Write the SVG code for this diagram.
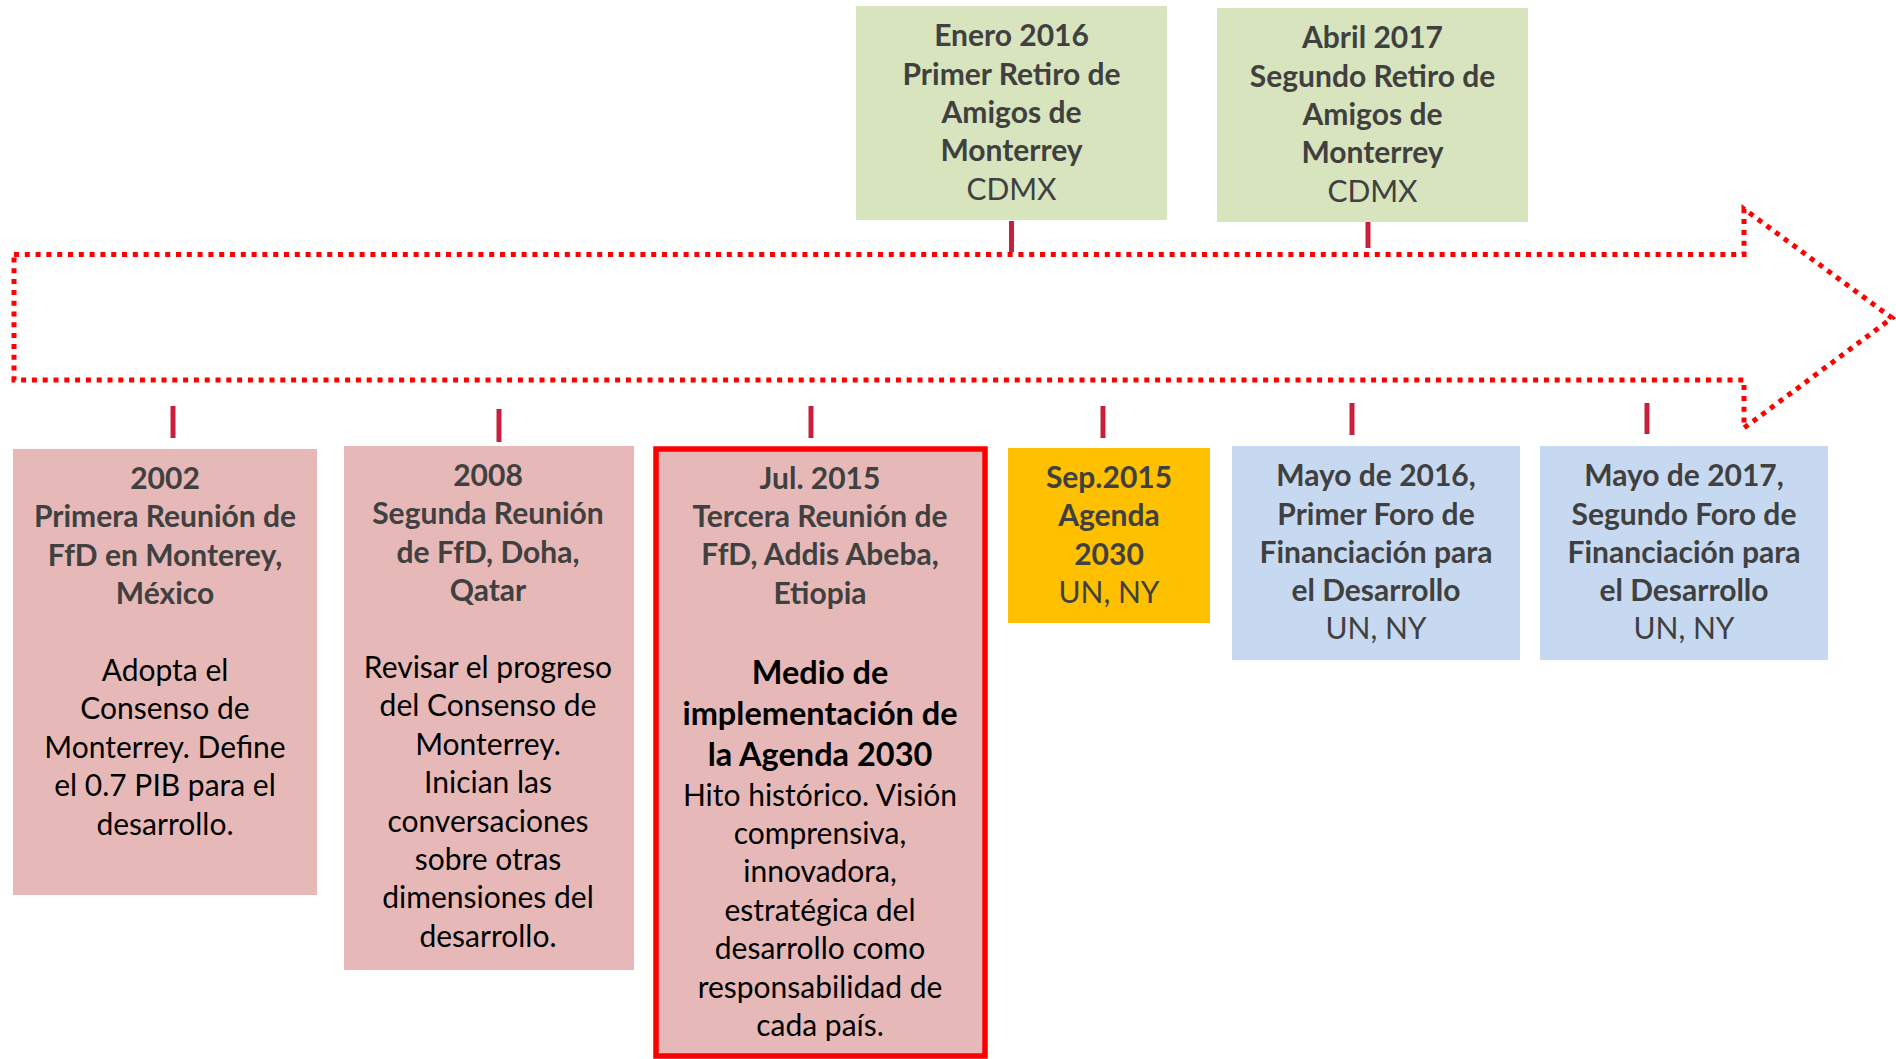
<svg xmlns="http://www.w3.org/2000/svg" width="1896" height="1059" viewBox="0 0 1896 1059">
<style>
.h{font-family:Lato,"Open Sans",sans-serif;font-weight:bold;font-size:30px;fill:#404040;text-anchor:middle}
.s{font-family:Lato,"Open Sans",sans-serif;font-size:30px;fill:#404040;text-anchor:middle}
.b{font-family:Lato,"Open Sans",sans-serif;font-size:30px;fill:#000;text-anchor:middle}
.m{font-family:Lato,"Open Sans",sans-serif;font-weight:bold;font-size:32.5px;fill:#000;text-anchor:middle}
.tick{stroke:#C8203C;stroke-width:5}
.pink{fill:#E6B9B8}
.green{fill:#D7E4BD}
.blue{fill:#C6D9F1}
</style>
<rect width="1896" height="1059" fill="#fff"/>
<g id="connectors">
<polygon points="14,254.5 1744,254.5 1744,209 1892,318 1744,428 1744,380 14,380" fill="none" stroke="#FF0000" stroke-width="5" stroke-dasharray="5 5.8"/>
<line class="tick" x1="1011.5" y1="221" x2="1011.5" y2="252"/>
<line class="tick" x1="1368" y1="217" x2="1368" y2="248"/>
<line class="tick" x1="173" y1="406" x2="173" y2="438"/>
<line class="tick" x1="499" y1="409" x2="499" y2="442"/>
<line class="tick" x1="811" y1="406" x2="811" y2="438"/>
<line class="tick" x1="1103" y1="406" x2="1103" y2="438"/>
<line class="tick" x1="1352" y1="403" x2="1352" y2="435"/>
<line class="tick" x1="1647" y1="403" x2="1647" y2="434"/>
</g>
<g id="n-enero2016">
<rect class="green" x="856" y="6" width="311" height="214"/>
<text class="h" x="1011.5" y="46">Enero 2016</text>
<text class="h" x="1011.5" y="84.5">Primer Retiro de</text>
<text class="h" x="1011.5" y="123">Amigos de</text>
<text class="h" x="1011.5" y="161">Monterrey</text>
<text class="s" x="1011.5" y="199.5">CDMX</text>
</g>
<g id="n-abril2017">
<rect class="green" x="1217" y="8" width="311" height="214"/>
<text class="h" x="1372.5" y="48">Abril 2017</text>
<text class="h" x="1372.5" y="86.5">Segundo Retiro de</text>
<text class="h" x="1372.5" y="125">Amigos de</text>
<text class="h" x="1372.5" y="163">Monterrey</text>
<text class="s" x="1372.5" y="201.5">CDMX</text>
</g>
<g id="n-2002">
<rect class="pink" x="13" y="449" width="304" height="446"/>
<text class="h" x="165" y="489">2002</text>
<text class="h" x="165" y="527.4">Primera Reunión de</text>
<text class="h" x="165" y="565.8">FfD en Monterey,</text>
<text class="h" x="165" y="604.2">México</text>
<text class="b" x="165" y="681">Adopta el</text>
<text class="b" x="165" y="719.4">Consenso de</text>
<text class="b" x="165" y="757.8">Monterrey. Define</text>
<text class="b" x="165" y="796.2">el 0.7 PIB para el</text>
<text class="b" x="165" y="834.6">desarrollo.</text>
</g>
<g id="n-2008">
<rect class="pink" x="344" y="446" width="290" height="524"/>
<text class="h" x="488" y="486">2008</text>
<text class="h" x="488" y="524.4">Segunda Reunión</text>
<text class="h" x="488" y="562.8">de FfD, Doha,</text>
<text class="h" x="488" y="601.2">Qatar</text>
<text class="b" x="488" y="678">Revisar el progreso</text>
<text class="b" x="488" y="716.4">del Consenso de</text>
<text class="b" x="488" y="754.8">Monterrey.</text>
<text class="b" x="488" y="793.2">Inician las</text>
<text class="b" x="488" y="831.6">conversaciones</text>
<text class="b" x="488" y="870">sobre otras</text>
<text class="b" x="488" y="908.4">dimensiones del</text>
<text class="b" x="488" y="946.8">desarrollo.</text>
</g>
<g id="n-jul2015">
<rect class="pink" x="656" y="449" width="329" height="607" stroke="#FF0000" stroke-width="5.5"/>
<text class="h" x="820" y="489">Jul. 2015</text>
<text class="h" x="820" y="527">Tercera Reunión de</text>
<text class="h" x="820" y="565">FfD, Addis Abeba,</text>
<text class="h" x="820" y="603.5">Etiopia</text>
<text class="m" x="820" y="683.5">Medio de</text>
<text class="m" x="820" y="724.5">implementación de</text>
<text class="m" x="820" y="765.5">la Agenda 2030</text>
<text class="b" x="820" y="805.5">Hito histórico. Visión</text>
<text class="b" x="820" y="844">comprensiva,</text>
<text class="b" x="820" y="882.4">innovadora,</text>
<text class="b" x="820" y="920.8">estratégica del</text>
<text class="b" x="820" y="959.2">desarrollo como</text>
<text class="b" x="820" y="997.6">responsabilidad de</text>
<text class="b" x="820" y="1036">cada país.</text>
</g>
<g id="n-sep2015">
<rect x="1008" y="448" width="202" height="175" fill="#FFC000"/>
<text class="h" x="1109" y="488">Sep.2015</text>
<text class="h" x="1109" y="526.4">Agenda</text>
<text class="h" x="1109" y="564.8">2030</text>
<text class="s" x="1109" y="603">UN, NY</text>
</g>
<g id="n-mayo2016">
<rect class="blue" x="1232" y="446" width="288" height="214"/>
<text class="h" x="1376" y="486">Mayo de 2016,</text>
<text class="h" x="1376" y="524.5">Primer Foro de</text>
<text class="h" x="1376" y="562.8">Financiación para</text>
<text class="h" x="1376" y="601">el Desarrollo</text>
<text class="s" x="1376" y="639.4">UN, NY</text>
</g>
<g id="n-mayo2017">
<rect class="blue" x="1540" y="446" width="288" height="214"/>
<text class="h" x="1684" y="486">Mayo de 2017,</text>
<text class="h" x="1684" y="524.5">Segundo Foro de</text>
<text class="h" x="1684" y="562.8">Financiación para</text>
<text class="h" x="1684" y="601">el Desarrollo</text>
<text class="s" x="1684" y="639.4">UN, NY</text>
</g>
</svg>
